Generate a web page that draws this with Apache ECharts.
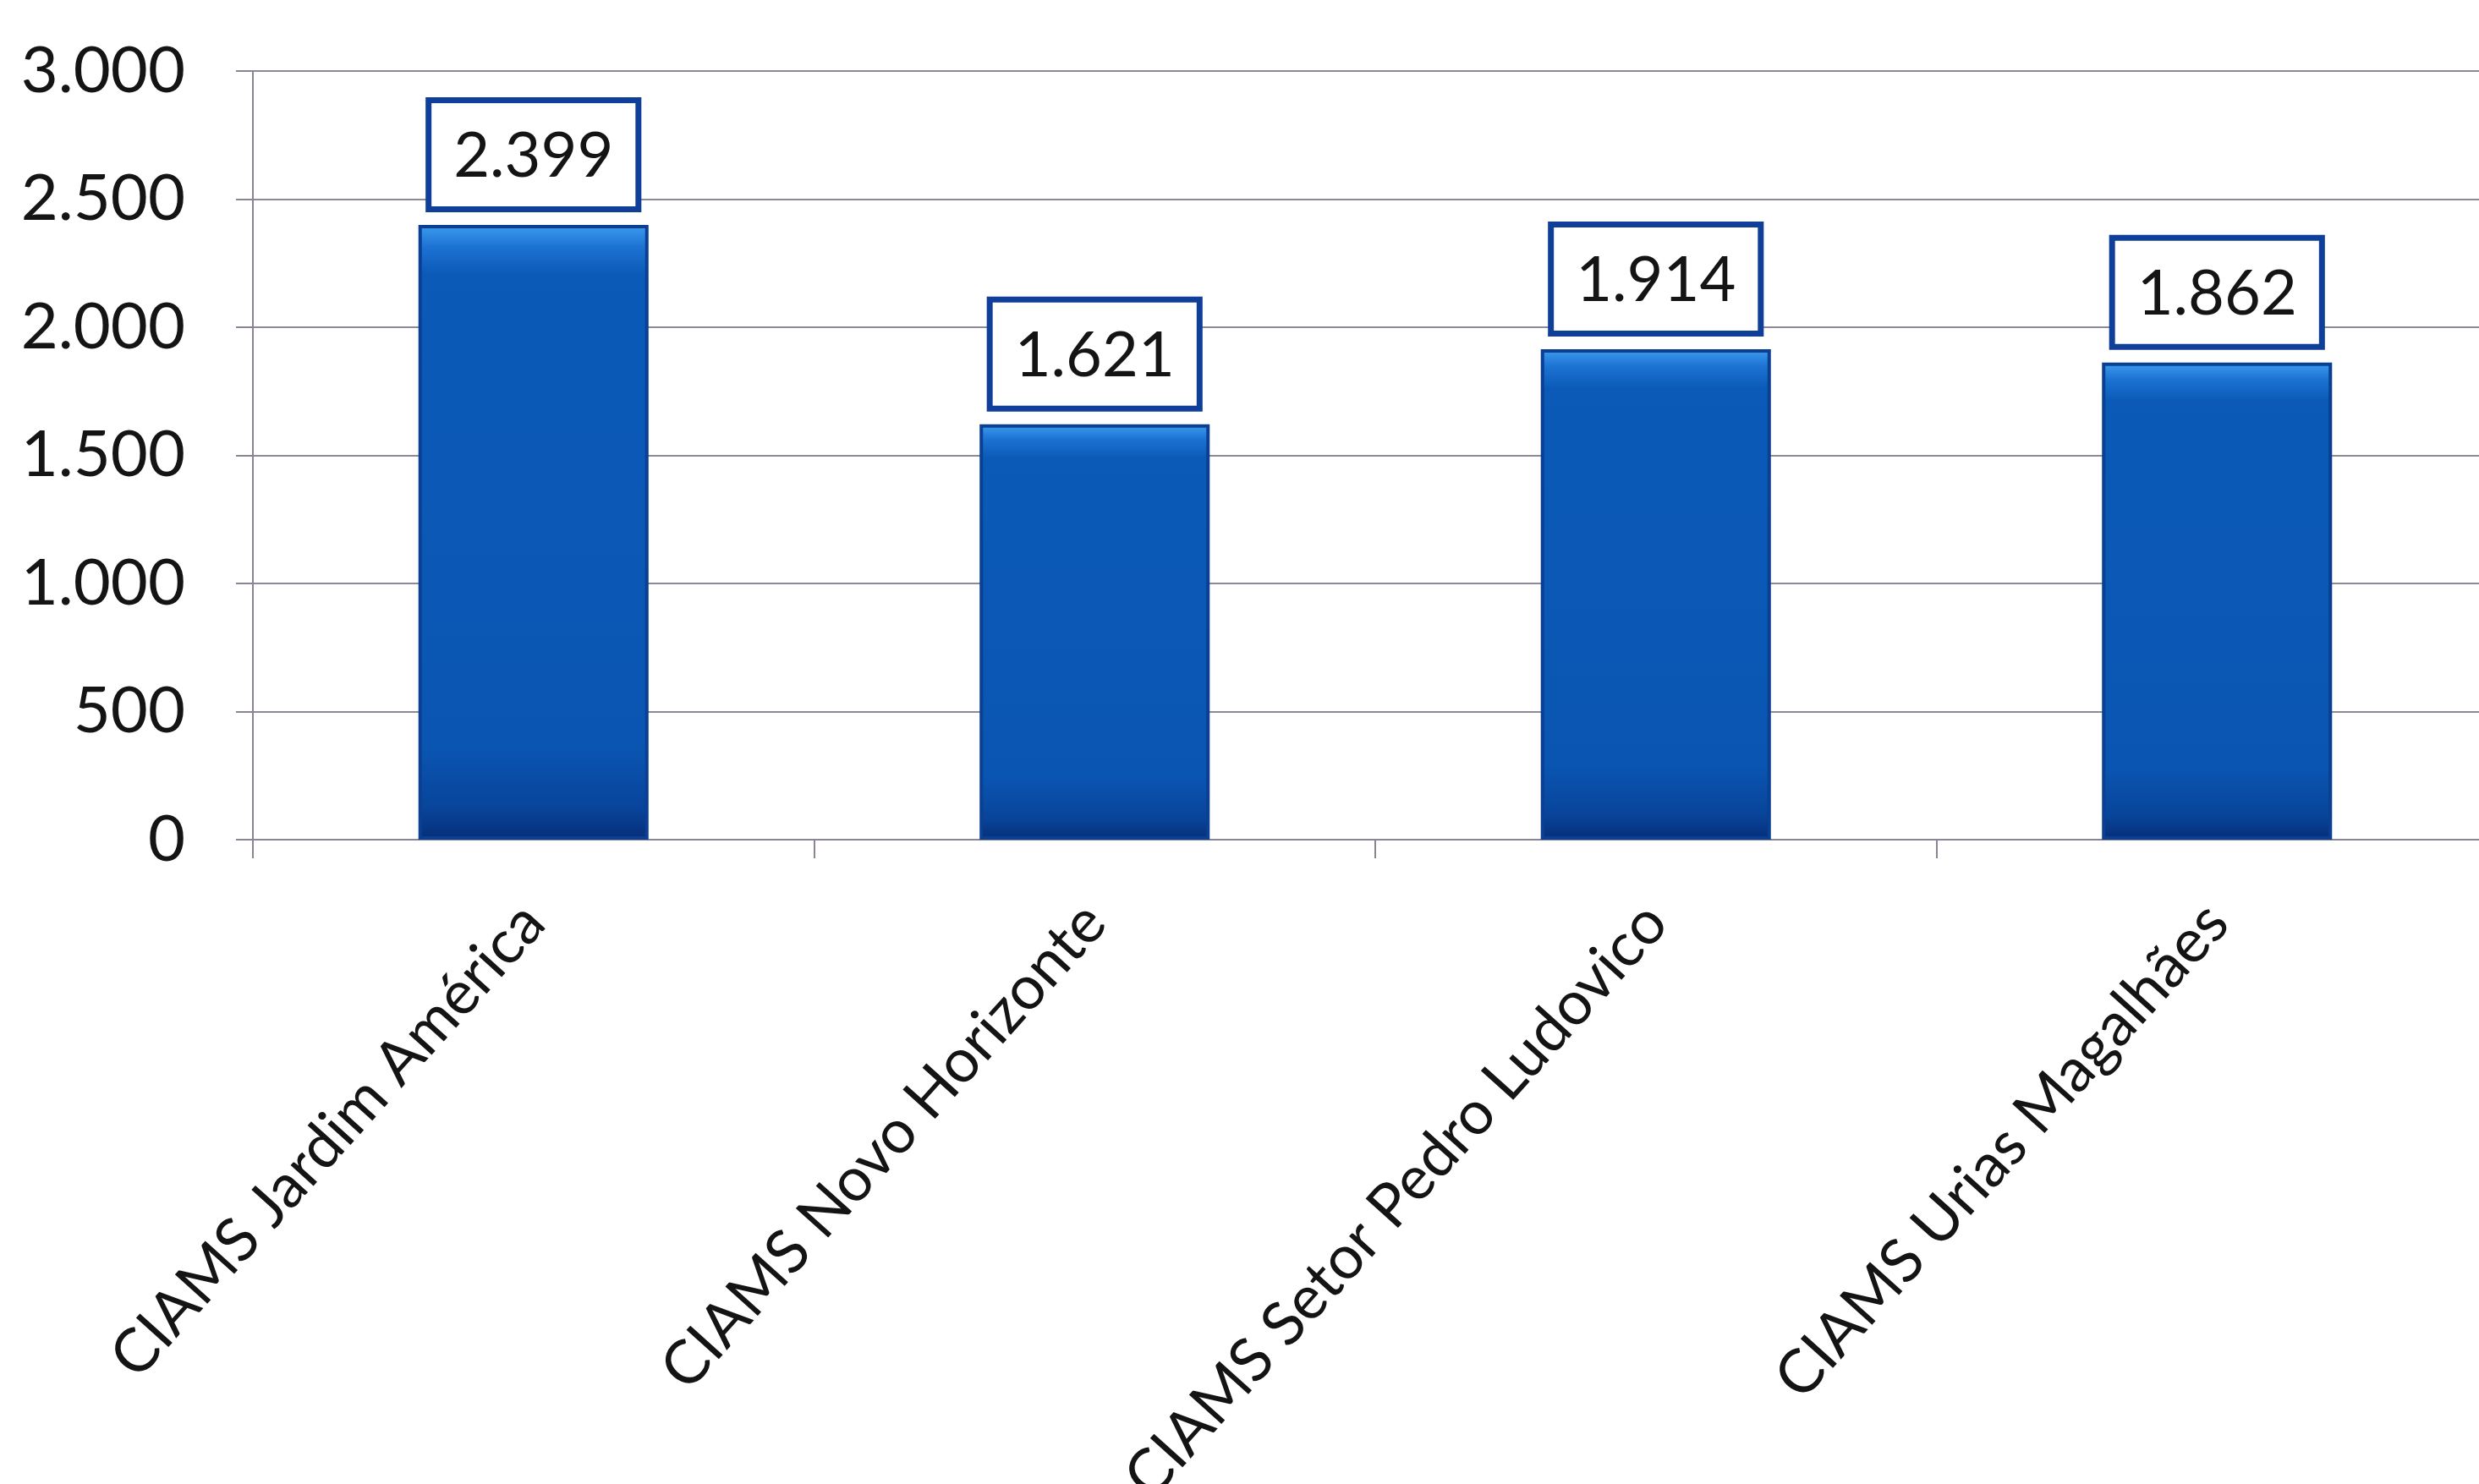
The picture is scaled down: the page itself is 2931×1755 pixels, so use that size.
<!DOCTYPE html>
<html>
<head>
<meta charset="utf-8">
<script src="https://cdn.jsdelivr.net/npm/echarts@6/dist/echarts.min.js"></script>
<style>
html,body{margin:0;padding:0;background:#fff;}
#chart{width:2931px;height:1755px;}
</style>
</head>
<body>
<div id="chart"></div>
<script>
const categories = ["CIAMS Jardim América", "CIAMS Novo Horizonte", "CIAMS Setor Pedro Ludovico", "CIAMS Urias Magalhães"];
const values = [2399, 1621, 1914, 1862];
const yMin = 0;
const yMax = 3000;
const yStep = 500;

function fmt(v) {
  return String(v).replace(/\B(?=(\d{3})+(?!\d))/g, '.');
}

const chart = echarts.init(document.getElementById('chart'), null, {renderer: 'canvas'});
chart.setOption({
  backgroundColor: '#ffffff',
  animation: false,
  grid: {left: 299, right: -22, top: 84, bottom: 762, containLabel: false, outerBoundsMode: 'none'},
  xAxis: {
    type: 'category',
    data: categories,
    axisLine: {show: true, lineStyle: {color: '#8a8494', width: 2}},
    axisTick: {show: true, alignWithLabel: false, length: 22, lineStyle: {color: '#8a8494', width: 2}},
    axisLabel: {
      interval: 0, rotate: 48, margin: 86,
      fontFamily: 'Lato', fontSize: 72, color: '#141414'
    },
    splitLine: {show: false}
  },
  yAxis: {
    type: 'value',
    min: yMin, max: yMax, interval: yStep,
    axisLine: {show: true, lineStyle: {color: '#8a8494', width: 2}},
    axisTick: {show: true, length: 20, lineStyle: {color: '#8a8494', width: 2}},
    axisLabel: {
      margin: 80, fontFamily: 'Lato', fontSize: 76, color: '#141414',
      formatter: v => fmt(v)
    },
    splitLine: {show: true, lineStyle: {color: '#8e8898', width: 2}}
  },
  series: [{
    type: 'bar',
    data: values,
    barWidth: '41%',
    itemStyle: {
      color: new echarts.graphic.LinearGradient(0, 0, 0, 1, [
        {offset: 0, color: '#3d9cf0'},
        {offset: 0.035, color: '#1d73d2'},
        {offset: 0.08, color: '#0b5ab8'},
        {offset: 0.85, color: '#0a55b2'},
        {offset: 0.95, color: '#08449a'},
        {offset: 1, color: '#062e78'}
      ]),
      borderColor: '#0a3f92',
      borderWidth: 4
    },
    label: {
      show: true,
      position: 'top',
      distance: 22,
      formatter: p => fmt(p.value),
      fontFamily: 'Lato',
      fontSize: 74,
      color: '#141414',
      backgroundColor: '#ffffff',
      borderColor: '#0f3f98',
      borderWidth: 7,
      padding: [26, 26, 22, 26]
    }
  }]
});
</script>
</body>
</html>
